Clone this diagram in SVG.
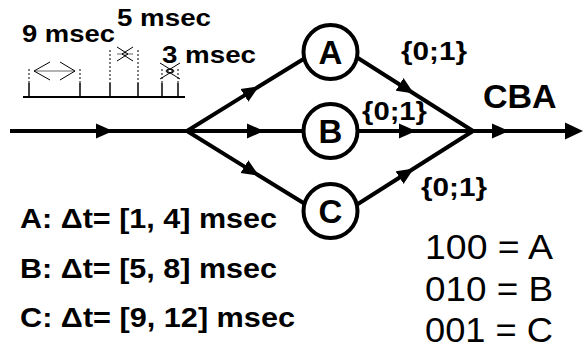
<svg xmlns="http://www.w3.org/2000/svg" width="584" height="349" viewBox="0 0 584 349">
  <style>
    .wire { fill: none; stroke: #000; stroke-width: 4; }
    .node circle { fill: #fff; stroke: #000; stroke-width: 4; }
    .node text { font-family: "Liberation Sans", Arial, sans-serif; font-weight: bold; font-size: 33px; text-anchor: middle; }
    .b { font-family: "Liberation Sans", Arial, sans-serif; font-weight: bold; fill: #000; }
    .r { font-family: "Liberation Sans", Arial, sans-serif; fill: #000; font-size: 35px; }
    .axis { stroke: #000; stroke-width: 2; fill: none; }
    .tick { stroke: #000; stroke-width: 1.5; }
    .dash { stroke: #000; stroke-width: 1; stroke-dasharray: 2 2; }
    .thin { stroke: #000; stroke-width: 1; fill: none; }
    .span { stroke: #999; stroke-width: 1.5; }
  </style>
  <defs>
    <marker id="arr" markerUnits="userSpaceOnUse" viewBox="0 0 18 16" markerWidth="18" markerHeight="16" refX="16" refY="8" orient="auto">
      <path d="M0,0.5 L17,8 L0,15.5 z" fill="#000"/>
    </marker>
    <marker id="arrEnd" markerUnits="userSpaceOnUse" viewBox="0 0 19 18" markerWidth="19" markerHeight="18" refX="10" refY="9" orient="auto">
      <path d="M0,0.5 L18,9 L0,17.5 z" fill="#000"/>
    </marker>
  </defs>

  <!-- time scale -->
  <g id="timescale">
    <line class="axis" x1="23" y1="97" x2="185" y2="97"/>
    <line class="tick" x1="29" y1="83" x2="29" y2="97"/>
    <line class="tick" x1="80" y1="83" x2="80" y2="97"/>
    <line class="tick" x1="110" y1="83" x2="110" y2="97"/>
    <line class="tick" x1="138" y1="83" x2="138" y2="97"/>
    <line class="tick" x1="162" y1="83" x2="162" y2="97"/>
    <line class="tick" x1="178" y1="83" x2="178" y2="97"/>
    <line class="dash" x1="29" y1="69" x2="29" y2="83"/>
    <line class="dash" x1="80" y1="69" x2="80" y2="83"/>
    <line class="dash" x1="110" y1="50" x2="110" y2="83"/>
    <line class="dash" x1="138" y1="50" x2="138" y2="83"/>
    <line class="dash" x1="162" y1="69" x2="162" y2="83"/>
    <line class="dash" x1="178" y1="69" x2="178" y2="83"/>
    <!-- 9 msec span -->
    <line class="span" x1="34" y1="71" x2="75" y2="71"/>
    <polyline class="thin" points="50,62 34,71 50,80"/>
    <polyline class="thin" points="60,62 75,71 60,80"/>
    <!-- 5 msec span -->
    <line class="span" x1="117" y1="54" x2="133" y2="54"/>
    <polyline class="thin" points="117,47 128,54 117,61"/>
    <polyline class="thin" points="133,47 122,54 133,61"/>
    <!-- 3 msec span -->
    <ellipse cx="170" cy="71" rx="4" ry="2" class="thin"/>
    <polyline class="thin" points="160,63 173,71 160,79"/>
    <polyline class="thin" points="180,63 167,71 180,79"/>
    <text class="b" x="22" y="42" font-size="23" textLength="93" lengthAdjust="spacingAndGlyphs">9 msec</text>
    <text class="b" x="117" y="26" font-size="23" textLength="94" lengthAdjust="spacingAndGlyphs">5 msec</text>
    <text class="b" x="162" y="63" font-size="23" textLength="94" lengthAdjust="spacingAndGlyphs">3 msec</text>
  </g>

  <!-- connectors -->
  <g id="connectors">
    <path class="wire" d="M10,131 L112,131 L187,131" marker-mid="url(#arr)"/>
    <path class="wire" d="M187,131 L258,87 L310,55" marker-mid="url(#arr)"/>
    <path class="wire" d="M187,131 L263,131 L305,131" marker-mid="url(#arr)"/>
    <path class="wire" d="M187,131 L258,175 L310,207" marker-mid="url(#arr)"/>
    <path class="wire" d="M350,53 L413,93 L473,131" marker-mid="url(#arr)"/>
    <path class="wire" d="M357,131 L415,131 L473,131" marker-mid="url(#arr)"/>
    <path class="wire" d="M350,209 L413,169 L473,131" marker-mid="url(#arr)"/>
    <path class="wire" d="M473,131 L508,131 L575,131" marker-mid="url(#arr)" marker-end="url(#arrEnd)"/>
  </g>

  <!-- nodes -->
  <g id="node-A" class="node">
    <circle cx="330.5" cy="52" r="27"/>
    <text x="330.5" y="64">A</text>
  </g>
  <g id="node-B" class="node">
    <circle cx="330.5" cy="131" r="27"/>
    <text x="330.5" y="143">B</text>
  </g>
  <g id="node-C" class="node">
    <circle cx="330.5" cy="211" r="27"/>
    <text x="330.5" y="223">C</text>
  </g>

  <!-- edge values and output -->
  <text class="b" x="401" y="60" font-size="25" textLength="66" lengthAdjust="spacingAndGlyphs">{0;1}</text>
  <text class="b" x="362" y="120" font-size="25" textLength="65" lengthAdjust="spacingAndGlyphs">{0;1}</text>
  <text class="b" x="421" y="196" font-size="25" textLength="66" lengthAdjust="spacingAndGlyphs">{0;1}</text>
  <text class="b" x="483" y="108" font-size="34">CBA</text>

  <!-- intervals -->
  <text class="b" x="20" y="228" font-size="27" textLength="257" lengthAdjust="spacingAndGlyphs">A: Δt= [1, 4] msec</text>
  <text class="b" x="20" y="278" font-size="27" textLength="257" lengthAdjust="spacingAndGlyphs">B: Δt= [5, 8] msec</text>
  <text class="b" x="20" y="327" font-size="27" textLength="275" lengthAdjust="spacingAndGlyphs">C: Δt= [9, 12] msec</text>

  <!-- code table -->
  <text class="r" x="425" y="259" textLength="128" lengthAdjust="spacingAndGlyphs">100 = A</text>
  <text class="r" x="425" y="301" textLength="128" lengthAdjust="spacingAndGlyphs">010 = B</text>
  <text class="r" x="425" y="342" textLength="128" lengthAdjust="spacingAndGlyphs">001 = C</text>
</svg>
